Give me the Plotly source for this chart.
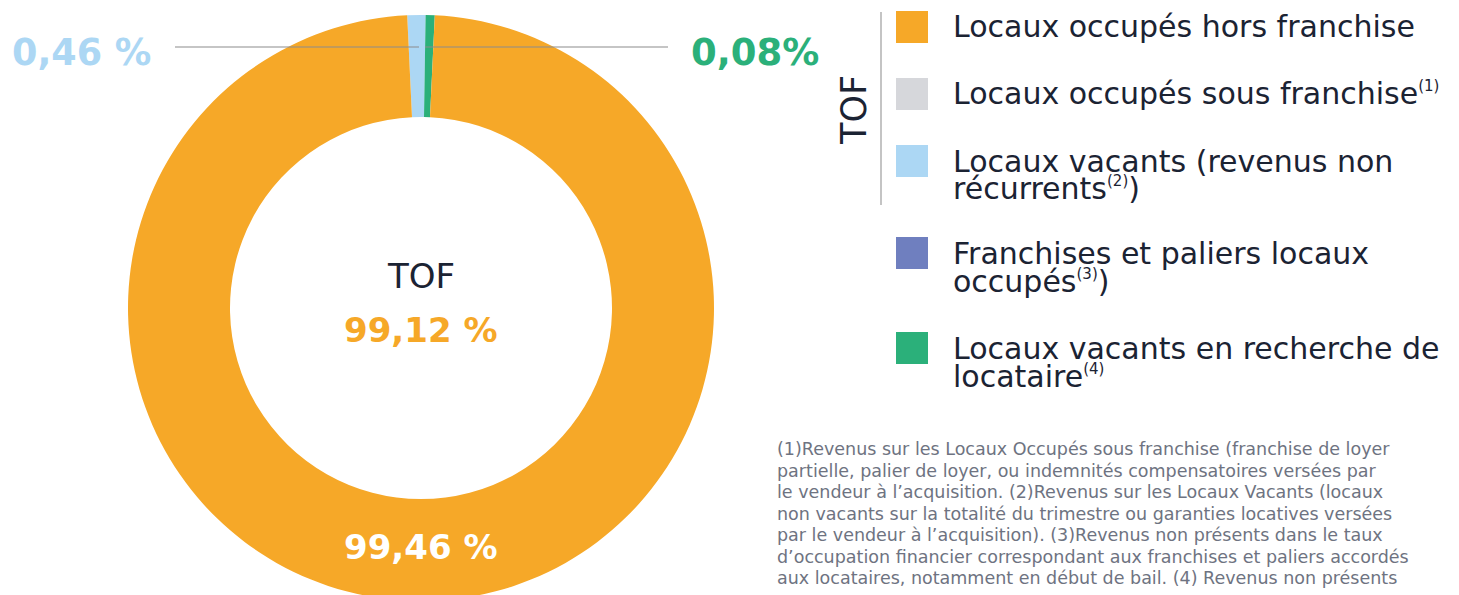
import plotly.graph_objects as go

# ── données ──────────────────────────────────────────────────────────────────
categories = [
    "Locaux vacants (revenus non récurrents)",
    "Locaux vacants en recherche de locataire",
    "Franchises et paliers locaux occupés",
    "Locaux occupés sous franchise",
    "Locaux occupés hors franchise",
]
# part visuelle des secteurs telle que dessinée sur l'anneau
slice_share = [1.0, 0.5, 0.0, 0.0, 98.5]
colors = ["#acd7f4", "#2bb07a", "#6f7fbf", "#d6d7db", "#f6a828"]

label_blue = "0,46 %"
label_green = "0,08%"
label_orange = "99,46 %"
tof_value = "99,12 %"


def sup(s):
    return f"<sup><span style='font-size:15px'>{s}</span></sup>"


legend_lines = [
    ("#f6a828", ["Locaux occupés hors franchise"]),
    ("#d6d7db", ["Locaux occupés sous franchise" + sup("(1)")]),
    ("#acd7f4", ["Locaux vacants (revenus non", "récurrents" + sup("(2)") + ")"]),
    ("#6f7fbf", ["Franchises et paliers locaux", "occupés" + sup("(3)") + ")"]),
    ("#2bb07a", ["Locaux vacants en recherche de", "locataire" + sup("(4)")]),
]

footnote = [
    "(1)Revenus sur les Locaux Occupés sous franchise (franchise de loyer",
    "partielle, palier de loyer, ou indemnités compensatoires versées par",
    "le vendeur à l’acquisition. (2)Revenus sur les Locaux Vacants (locaux",
    "non vacants sur la totalité du trimestre ou garanties locatives versées",
    "par le vendeur à l’acquisition). (3)Revenus non présents dans le taux",
    "d’occupation financier correspondant aux franchises et paliers accordés",
    "aux locataires, notamment en début de bail. (4) Revenus non présents",
]

# la figure déborde un peu sous la fenêtre (595 px) : l'anneau est coupé en bas
W, H = 1459, 601
FONT = "DejaVu Sans"
DARK = "#1b2333"


def px(x):
    return x / W


def py(y):
    return 1 - y / H


fig = go.Figure()

# ── anneau ───────────────────────────────────────────────────────────────────
cx, cy, r = 421, 308, 293
fig.add_trace(go.Pie(
    labels=categories, values=slice_share,
    marker=dict(colors=colors, line=dict(width=0)),
    hole=191 / r,
    sort=False, direction="clockwise", rotation=-2.7,
    textinfo="none", showlegend=False, hoverinfo="label",
    domain=dict(x=[px(cx - r), px(cx + r)], y=[0, 1 - 15 / H]),
))

ann = []


def text(x, y, s, size, color, weight="normal", anchor="center", **kw):
    ann.append(dict(
        x=px(x), y=py(y), xref="paper", yref="paper", text=s, showarrow=False,
        xanchor=anchor, yanchor="middle",
        font=dict(family=FONT, size=size, color=color, weight=weight), **kw,
    ))


# étiquettes de l'anneau
text(81, 52, label_blue, 36.5, "#acd7f4", "bold")
text(755, 52, label_green, 37, "#2bb07a", "bold")
text(421, 276, "TOF", 34, DARK)
text(420, 330, tof_value, 34, "#f6a828", "bold")
text(420, 547, label_orange, 34, "white", "bold")

shapes = [
    dict(type="line", xref="paper", yref="paper", x0=px(175), x1=px(419),
         y0=py(47), y1=py(47), line=dict(color="#8c8c8c", width=1.2)),
    dict(type="line", xref="paper", yref="paper", x0=px(425), x1=px(668),
         y0=py(47), y1=py(47), line=dict(color="#8c8c8c", width=1.2)),
    dict(type="line", xref="paper", yref="paper", x0=px(881), x1=px(881),
         y0=py(12), y1=py(205), line=dict(color="#b0b0b0", width=1.5)),
]

# ── légende ──────────────────────────────────────────────────────────────────
text(854, 110, "TOF", 35, DARK, textangle=-90)
box_top = [11, 78, 145, 237, 332]
for (col, lines), top in zip(legend_lines, box_top):
    shapes.append(dict(type="rect", xref="paper", yref="paper",
                       x0=px(896), x1=px(928), y0=py(top), y1=py(top + 32),
                       fillcolor=col, line=dict(width=0)))
    for i, ln in enumerate(lines):
        text(951, top + 16 + i * 28, ln, 30, DARK, anchor="left")

# ── notes ────────────────────────────────────────────────────────────────────
for i, ln in enumerate(footnote):
    text(775, 449 + i * 21.5, ln, 17.5, "#6e7381", anchor="left")

fig.update_layout(
    width=W, height=H,
    margin=dict(l=0, r=0, t=0, b=0),
    paper_bgcolor="white", plot_bgcolor="white",
    annotations=ann, shapes=shapes,
)

fig.write_html(
    "out.html",
    config={"displayModeBar": False},
    post_script="document.body.style.margin='0';document.body.style.overflow='hidden';",
)
